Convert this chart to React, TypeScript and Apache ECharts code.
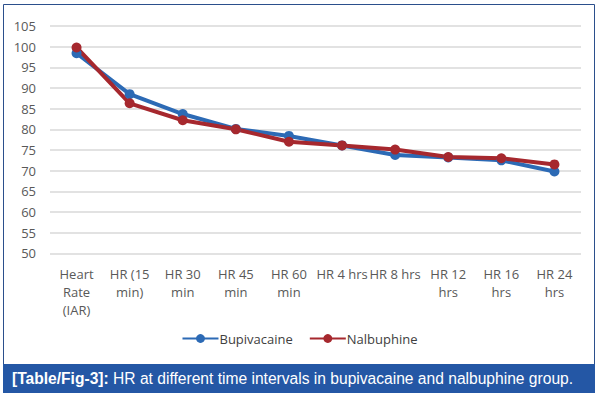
import React, { useEffect, useRef } from "react";
import * as echarts from "echarts";

const categories = [
  "Heart\nRate\n(IAR)",
  "HR (15\nmin)",
  "HR 30\nmin",
  "HR 45\nmin",
  "HR 60\nmin",
  "HR 4 hrs",
  "HR 8 hrs",
  "HR 12\nhrs",
  "HR 16\nhrs",
  "HR 24\nhrs",
];
const bupivacaine = [98.4, 88.5, 83.7, 80.1, 78.4, 76.1, 73.8, 73.2, 72.5, 69.8];
const nalbuphine = [99.8, 86.3, 82.2, 80.0, 77.0, 76.1, 75.1, 73.3, 73.0, 71.5];
const yMin = 50;
const yMax = 105;
const yStep = 5;
const captionBold = "[Table/Fig-3]:";
const captionText = " HR at different time intervals in bupivacaine and nalbuphine group.";

export default function App() {
  const ref = useRef<HTMLDivElement>(null);
  useEffect(() => {
    if (!ref.current) return;
    const chart = echarts.init(ref.current, null, { renderer: "svg" });
    const font = "'Open Sans', sans-serif";
    chart.setOption({
      animation: false,
      backgroundColor: "#ffffff",
      grid: { left: 50, right: 18, top: 26, bottom: 144.7, containLabel: false },
      xAxis: {
        type: "category",
        data: categories,
        boundaryGap: true,
        axisLine: { show: false },
        axisTick: { show: false },
        axisLabel: {
          interval: 0,
          color: "#595959",
          fontFamily: font,
          fontSize: 13,
          lineHeight: 18,
          margin: 12,
        },
      },
      yAxis: {
        type: "value",
        min: yMin,
        max: yMax,
        interval: yStep,
        axisLine: { show: false },
        axisTick: { show: false },
        axisLabel: { color: "#595959", fontFamily: font, fontSize: 13, margin: 14 },
        splitLine: { lineStyle: { color: "#d9d9d9", width: 1.5 } },
      },
      legend: {
        bottom: 48,
        left: "center",
        itemWidth: 36,
        itemHeight: 11,
        itemGap: 16,
        textStyle: { color: "#404040", fontFamily: font, fontSize: 13, padding: [0, 0, 0, -4] },
        data: ["Bupivacaine", "Nalbuphine"],
      },
      series: [
        {
          name: "Bupivacaine",
          type: "line",
          data: bupivacaine,
          symbol: "circle",
          symbolSize: 10,
          color: "#2C6AB5",
          lineStyle: { width: 4, color: "#2C6AB5" },
          itemStyle: { color: "#2C6AB5" },
        },
        {
          name: "Nalbuphine",
          type: "line",
          data: nalbuphine,
          symbol: "circle",
          symbolSize: 10,
          color: "#A6282E",
          lineStyle: { width: 4, color: "#A6282E" },
          itemStyle: { color: "#A6282E" },
        },
      ],
      graphic: [
        {
          type: "rect",
          shape: { x: 3.5, y: 4.5, width: 591, height: 360 },
          style: { fill: "none", stroke: "#2B4F8C", lineWidth: 1 },
          silent: true,
        },
        {
          type: "rect",
          shape: { x: 3, y: 364, width: 592, height: 29 },
          style: { fill: "#2457A5" },
          silent: true,
        },
        {
          type: "text",
          x: 12,
          y: 378.5,
          style: {
            text: "{b|" + captionBold + "}{n|" + captionText + "}",
            verticalAlign: "middle",
            rich: {
              b: { fontFamily: "'Liberation Sans', Arial, sans-serif", fontWeight: "bold", fontSize: 15.6, fill: "#ffffff" },
              n: { fontFamily: "'Liberation Sans', Arial, sans-serif", fontSize: 15.6, fill: "#ffffff" },
            },
          },
          silent: true,
        },
      ],
    });
    return () => chart.dispose();
  }, []);
  return (
    <div
      ref={ref}
      style={{ position: "absolute", left: 0, top: 0, width: 599, height: 398 }}
    />
  );
}
